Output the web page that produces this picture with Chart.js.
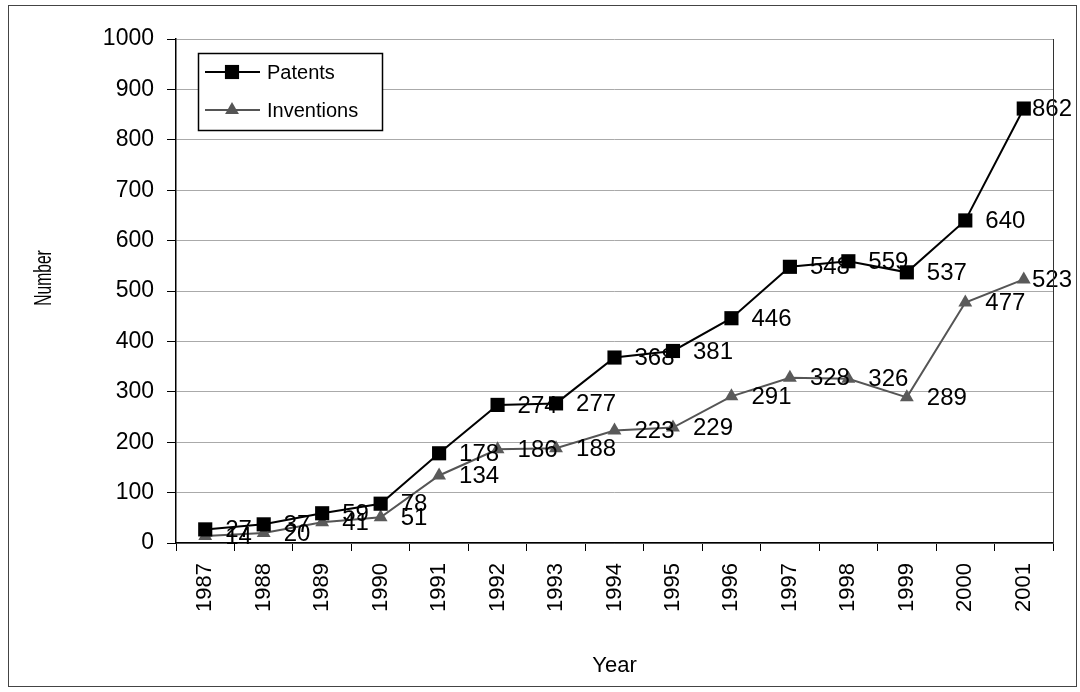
<!DOCTYPE html>
<html>
<head>
<meta charset="utf-8">
<script src="https://cdn.jsdelivr.net/npm/chart.js@4.4.0/dist/chart.umd.min.js"></script>
<style>
  html, body { margin: 0; padding: 0; background: #fff; }
  #wrap { width: 1080px; height: 692px; position: relative; }
</style>
</head>
<body>
<div id="wrap"><canvas id="lineChart" width="1080" height="692"></canvas></div>
<script>
const years = ['1987', '1988', '1989', '1990', '1991', '1992', '1993', '1994', '1995', '1996', '1997', '1998', '1999', '2000', '2001'];
const patents = [27, 37, 59, 78, 178, 274, 277, 368, 381, 446, 548, 559, 537, 640, 862];
const inventions = [14, 20, 41, 51, 134, 186, 188, 223, 229, 291, 328, 326, 289, 477, 523];
const yTicks = [0, 100, 200, 300, 400, 500, 600, 700, 800, 900, 1000];

const FONT = 'Liberation Sans, Arial, sans-serif';

// value labels to the right of every point, plus the boxes, y title and the legend
const extras = {
  id: 'extras',
  afterDatasetsDraw(chart) {
    const ctx = chart.ctx;
    const area = chart.chartArea;
    ctx.save();
    ctx.font = '24px ' + FONT;
    ctx.fillStyle = '#000';
    ctx.textAlign = 'left';
    ctx.textBaseline = 'middle';
    chart.data.datasets.forEach((ds, i) => {
      const meta = chart.getDatasetMeta(i);
      meta.data.forEach((pt, j) => {
        const txt = String(ds.data[j]);
        let x = pt.x + 20;
        const w = ctx.measureText(txt).width;
        if (x + w > 1072) x = 1072 - w;
        ctx.fillText(txt, x, pt.y + 1);
      });
    });

    // right edge of the plot
    ctx.strokeStyle = '#333';
    ctx.lineWidth = 1;
    ctx.beginPath();
    ctx.moveTo(Math.round(area.right) + 0.5, area.top);
    ctx.lineTo(Math.round(area.right) + 0.5, area.bottom);
    ctx.stroke();

    // y axis title, narrow like the original
    ctx.save();
    ctx.translate(45, 278);
    ctx.rotate(-Math.PI / 2);
    ctx.scale(0.68, 1);
    ctx.font = '23px ' + FONT;
    ctx.textAlign = 'center';
    ctx.fillText('Number', 0, 0);
    ctx.restore();

    // legend
    const lx = 198, ly = 53, lw = 184, lh = 77;
    ctx.fillStyle = '#fff';
    ctx.fillRect(lx, ly, lw, lh);
    ctx.strokeStyle = '#000';
    ctx.lineWidth = 1.5;
    ctx.strokeRect(lx + 0.5, ly + 0.5, lw, lh);
    const rows = [
      { y: 72, color: '#000', style: 'rect', r: 10, text: 'Patents' },
      { y: 110, color: '#555', style: 'triangle', r: 8, text: 'Inventions' }
    ];
    rows.forEach(row => {
      ctx.strokeStyle = row.color;
      ctx.lineWidth = 2;
      ctx.beginPath();
      ctx.moveTo(205, row.y);
      ctx.lineTo(260, row.y);
      ctx.stroke();
      ctx.fillStyle = row.color;
      Chart.helpers.drawPoint(ctx, { pointStyle: row.style, radius: row.r, borderWidth: 0 }, 232, row.y);
      ctx.fillStyle = '#000';
      ctx.font = '20px ' + FONT;
      ctx.textBaseline = 'middle';
      ctx.fillText(row.text, 267, row.y + 1);
    });

    // outer frame
    ctx.strokeStyle = '#444';
    ctx.lineWidth = 1;
    ctx.strokeRect(8.5, 5.5, 1068, 681);
    ctx.restore();
  }
};

const ctx = document.getElementById('lineChart').getContext('2d');
new Chart(ctx, {
  type: 'line',
  data: {
    labels: years,
    datasets: [{
      label: 'Patents',
      data: patents,
      borderColor: '#000',
      backgroundColor: '#000',
      borderWidth: 2,
      pointStyle: 'rect',
      pointRadius: 10,
      pointBorderWidth: 0,
      tension: 0
    }, {
      label: 'Inventions',
      data: inventions,
      borderColor: '#555',
      backgroundColor: '#5a5a5a',
      borderWidth: 2,
      pointStyle: 'triangle',
      pointRadius: 8,
      pointBorderWidth: 0,
      tension: 0
    }]
  },
  options: {
    responsive: false,
    animation: false,
    layout: { padding: { top: 39, right: 27, bottom: 0, left: 0 } },
    plugins: {
      legend: { display: false },
      tooltip: { enabled: false }
    },
    scales: {
      x: {
        offset: true,
        afterFit: scale => { scale.height = 149; },
        grid: {
          display: true,
          offset: true,
          drawOnChartArea: false,
          drawTicks: true,
          tickLength: 8,
          tickColor: '#000'
        },
        border: { color: '#000', width: 1.5 },
        ticks: {
          color: '#000',
          font: { family: FONT, size: 22 },
          minRotation: 90,
          maxRotation: 90,
          padding: 12,
          autoSkip: false
        },
        title: {
          display: true,
          text: 'Year',
          color: '#000',
          font: { family: FONT, size: 22 },
          padding: { top: 0, bottom: 13 }
        }
      },
      y: {
        min: 0,
        max: 1000,
        afterFit: scale => { scale.width = 176; },
        afterBuildTicks: scale => { scale.ticks = yTicks.map(v => ({ value: v })); },
        grid: {
          color: '#aaa',
          lineWidth: 1,
          tickColor: '#000',
          tickLength: 9
        },
        border: { color: '#000', width: 1.5 },
        ticks: {
          color: '#000',
          font: { family: FONT, size: 23 },
          padding: 13,
          callback: v => String(v)
        },
        title: { display: false }
      }
    }
  },
  plugins: [extras]
});
</script>
</body>
</html>
